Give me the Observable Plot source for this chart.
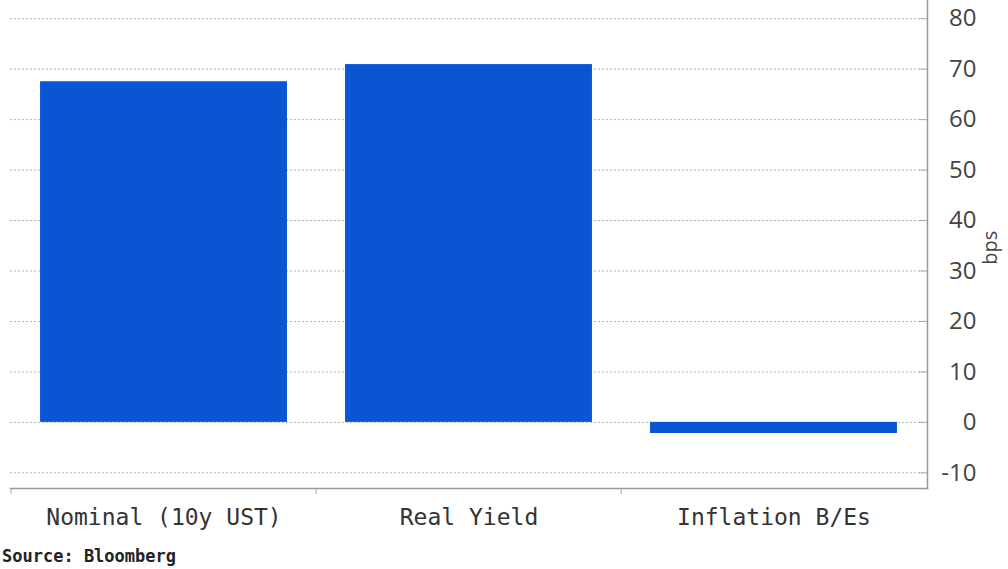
<!DOCTYPE html>
<html>
<head>
<meta charset="utf-8">
<script src="https://cdn.jsdelivr.net/npm/d3@7"></script>
<script src="https://cdn.jsdelivr.net/npm/@observablehq/plot@0.6"></script>
<style>
  html, body { margin: 0; padding: 0; background: #fff; }
  #caption { font-family: "DejaVu Sans Mono", monospace; font-weight: bold; font-size: 17px; color: #222; margin: 3px 0 0 2px; line-height: 20px; }
</style>
</head>
<body>
<div id="chart"></div>
<div id="caption">Source: Bloomberg</div>
<script>
const categories = ["Nominal (10y UST)", "Real Yield", "Inflation B/Es"];
const values = [67.5, 70.9, -2.2];
const yTicks = [-10, 0, 10, 20, 30, 40, 50, 60, 70, 80];
const yLabel = "bps";

const data = categories.map((c, i) => ({category: c, value: values[i]}));

const W = 1008, H = 543, mL = 10, mR = 81, mT = 0, mB = 55;
const bw = (W - mL - mR) / categories.length;
const inset = bw * 0.095;

const chart = Plot.plot({
  width: W,
  height: H,
  marginLeft: mL,
  marginRight: mR,
  marginTop: mT,
  marginBottom: mB,
  style: {background: "#fff"},
  x: {domain: categories, padding: 0},
  y: {domain: [-13.1, 83.6]},
  marks: [
    Plot.ruleY(yTicks, {stroke: "#b5b5b5", strokeDasharray: "2,2", strokeWidth: 1}),
    Plot.barY(data, {x: "category", y: "value", fill: "#0a56d2", insetLeft: inset, insetRight: inset}),
    Plot.axisY({anchor: "right", ticks: yTicks, tickSize: -9, stroke: "#aaa", tickFormat: () => "", label: null}),
    Plot.text(yTicks, {y: d => d, text: d => String(d), frameAnchor: "right", textAnchor: "end", dx: 49, fontSize: 24, fontFamily: "Open Sans", fill: "#444"}),
    Plot.text([yLabel], {frameAnchor: "right", y: 38, dx: 63, rotate: -90, fontSize: 20, fontFamily: "Open Sans", fill: "#444"}),
    Plot.axisX({anchor: "bottom", tickSize: 0, tickPadding: 20, fontSize: 23, fontFamily: "DejaVu Sans Mono", fill: "#333", label: null}),
    Plot.ruleX(categories, {x: d => d, dx: -bw / 2, y1: -13.1, y2: -13.1, insetBottom: -6, stroke: "#aaa"}),
    Plot.frame({anchor: "right", stroke: "#999", strokeWidth: 1.5}),
    Plot.frame({anchor: "bottom", stroke: "#999", strokeWidth: 1.5})
  ]
});
document.getElementById("chart").appendChild(chart);
</script>
</body>
</html>
